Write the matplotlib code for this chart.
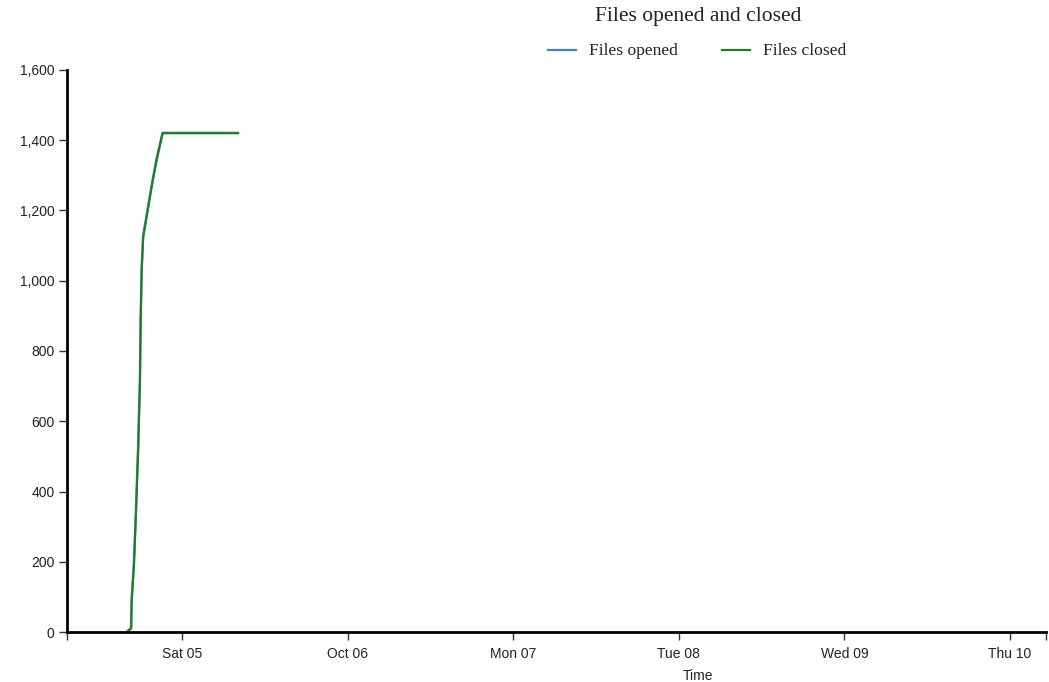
import numpy as np
import pandas as pd
import matplotlib
matplotlib.use("Agg")
import matplotlib.pyplot as plt
import matplotlib.dates as mdates
from matplotlib.ticker import FuncFormatter

# ----------------------------------------------------------------------
# data (cumulative counts)
# ----------------------------------------------------------------------
opened_times = ["2024-10-04 16:00", "2024-10-04 16:37", "2024-10-04 16:42",
                "2024-10-04 17:01", "2024-10-04 17:19", "2024-10-04 17:39",
                "2024-10-04 17:54", "2024-10-04 18:00", "2024-10-04 18:09",
                "2024-10-04 18:22", "2024-10-04 18:52", "2024-10-04 19:36",
                "2024-10-04 20:19", "2024-10-04 21:11", "2024-10-05 08:07"]
opened_counts = [0, 12, 95, 192, 345, 535, 722, 892, 1035, 1128, 1186,
                 1272, 1348, 1421, 1421]

closed_times = ["2024-10-04 16:00", "2024-10-04 16:38", "2024-10-04 16:43",
                "2024-10-04 17:02", "2024-10-04 17:20", "2024-10-04 17:40",
                "2024-10-04 17:55", "2024-10-04 18:01", "2024-10-04 18:10",
                "2024-10-04 18:23", "2024-10-04 18:53", "2024-10-04 19:37",
                "2024-10-04 20:20", "2024-10-04 21:12", "2024-10-05 08:07"]
closed_counts = [0, 10, 91, 186, 338, 528, 717, 888, 1031, 1125, 1182,
                 1268, 1344, 1420, 1420]

x_start, x_end = "2024-10-04 07:20", "2024-10-10 05:13"
y_ticks = [0, 200, 400, 600, 800, 1000, 1200, 1400, 1600]
day_ticks = pd.date_range("2024-10-05", "2024-10-10", freq="D")

# ----------------------------------------------------------------------
W, H = 1049, 682
fig = plt.figure(figsize=(W / 100, H / 100), dpi=100)
ax = fig.add_axes([67 / W, 1 - 632 / H, (1046 - 67) / W, (632 - 70) / H])

ax.plot(pd.to_datetime(opened_times), opened_counts, color="#4682b4",
        lw=1.7, label="Files opened", solid_joinstyle="round")
ax.plot(pd.to_datetime(closed_times), closed_counts, color="#1f7f1f",
        lw=1.5, label="Files closed", solid_joinstyle="round")

ax.set_xlim(pd.Timestamp(x_start), pd.Timestamp(x_end))
ax.set_ylim(0, 1600)

ax.set_yticks(y_ticks)
ax.yaxis.set_major_formatter(FuncFormatter(lambda v, p: f"{int(v):,}"))
ax.set_xticks(day_ticks)
ax.xaxis.set_major_formatter(FuncFormatter(
    lambda v, p: mdates.num2date(v).strftime("%b %d" if mdates.num2date(v).weekday() == 6 else "%a %d")))
# outer ticks at the ends of the x domain
ax.set_xticks([pd.Timestamp(x_start), pd.Timestamp(x_end)], minor=True)

for s in ["top", "right"]:
    ax.spines[s].set_visible(False)
for s in ["left", "bottom"]:
    ax.spines[s].set_linewidth(2)
    ax.spines[s].set_color("black")

sans = ["Liberation Sans", "DejaVu Sans"]
ax.tick_params(axis="both", which="both", direction="out", length=6,
               width=1, color="#333333", labelcolor="#222222")
ax.tick_params(axis="y", pad=3)
ax.tick_params(axis="x", pad=5)
for lab in ax.get_xticklabels() + ax.get_yticklabels():
    lab.set_fontfamily(sans)
    lab.set_fontsize(10)

fig.text(698 / W, 1 - 676 / H, "Time", ha="center", va="center",
         fontsize=10, family=sans, color="#222222")

serif = ["Liberation Serif", "DejaVu Serif"]
fig.text(698 / W, 1 - 16 / H, "Files opened and closed", ha="center",
         va="center", fontsize=15.5, family=serif, color="#222222")

# legend drawn as figure-level line + text pairs
legend_items = [("Files opened", "#4682b4", 548), ("Files closed", "#1f7f1f", 722)]
for txt, col, x0 in legend_items:
    fig.add_artist(plt.Line2D([x0 / W, (x0 + 28) / W], [1 - 50 / H, 1 - 50 / H],
                              color=col, lw=1.6))
    fig.text((x0 + 41) / W, 1 - 51 / H, txt, ha="left", va="center",
             fontsize=12.6, family=serif, color="#222222")

fig.savefig("out.png", dpi=100)
